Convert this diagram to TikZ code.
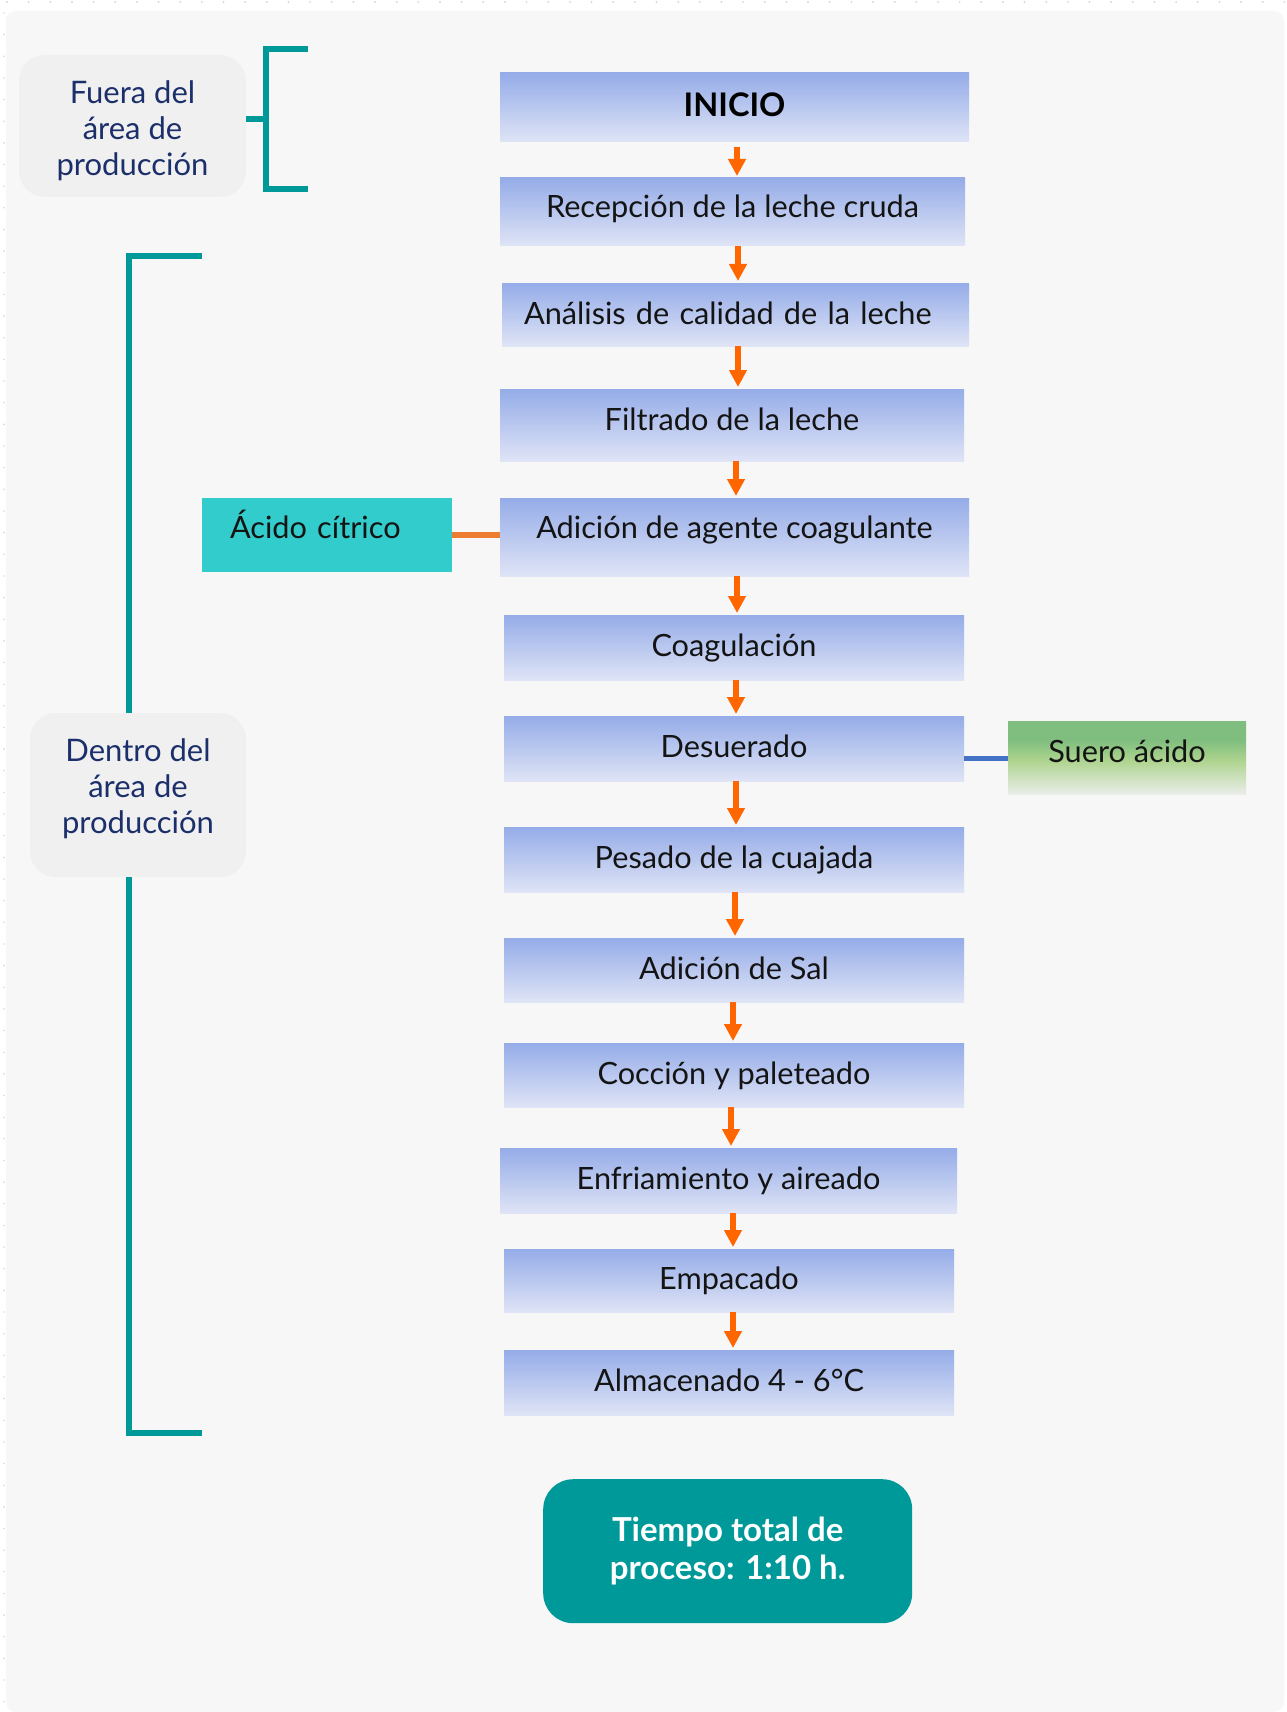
\documentclass[tikz,border=0pt]{standalone}
\usepackage{fontspec}
\setmainfont{Lato}
\usetikzlibrary{arrows.meta,calc}

% palette
\definecolor{panel}{HTML}{F7F7F7}
\definecolor{zonefill}{HTML}{F0F0F0}
\definecolor{navy}{HTML}{1B2F6A}
\definecolor{brTeal}{HTML}{009999}
\definecolor{stepTop}{HTML}{95ACE8}
\definecolor{stepBot}{HTML}{DFE4F6}
\definecolor{flowOrange}{HTML}{FF6600}
\definecolor{acidFill}{HTML}{33CCCC}
\definecolor{acidLine}{HTML}{ED7D31}
\definecolor{wheyLine}{HTML}{4472C4}
\definecolor{sueroTop}{HTML}{7FBE7E}
\definecolor{sueroMid}{HTML}{AED48F}
\definecolor{sueroBot}{HTML}{EAEDE8}
\definecolor{ink}{HTML}{141414}
\definecolor{dotc}{HTML}{D3DAEE}

% green fade for the whey box (25bp = bottom edge, 75bp = top edge)
\pgfdeclareverticalshading{sueroshade}{100bp}{%
  color(0bp)=(sueroBot); color(25bp)=(sueroBot); color(48bp)=(sueroMid);
  color(62bp)=(sueroTop); color(100bp)=(sueroTop)}

\newcommand\stepfont{\fontsize{30.7pt}{36pt}\selectfont}
\newcommand\zonefont{\fontsize{31pt}{36pt}\selectfont}
\newcommand\totalfont{\fontsize{33pt}{38.4pt}\selectfont\bfseries}

\tikzset{
  stepbox/.style={rectangle, anchor=north west, inner sep=0pt, outer sep=0pt,
    top color=stepTop, bottom color=stepBot, draw=none, font=\stepfont,
    text=ink, text height=22pt, text depth=4pt},
  zonebox/.style={rectangle, rounded corners=26pt, anchor=north west,
    fill=zonefill, inner sep=0pt, outer sep=0pt},
  zonetext/.style={font=\zonefont, text=navy, align=center, inner sep=0pt},
  flow/.style={draw=flowOrange, line width=6pt,
    -{Triangle[width=17pt,length=17pt]}, shorten >=2pt},
  bracket/.style={draw=brTeal, line width=6pt, line join=miter, line cap=butt},
}

\begin{document}
\begin{tikzpicture}[x=1pt, y=-1pt]
\useasboundingbox (0,0) rectangle (1286,1712);

% canvas, dotted grid edge and panel
\fill[white] (0,0) rectangle (1286,1712);
\foreach \i in {0,...,59} \fill[dotc] (7+21.65*\i,2) circle (1.1pt);
\foreach \i in {0,...,78} \fill[dotc] (4,13+21.65*\i) circle (0.9pt);
\fill[panel, rounded corners=10pt] (6,1712) -- (6,11) -- (1284,11) -- (1284,1712) -- cycle;

% zone labels
\node[zonebox, minimum width=227pt, minimum height=142pt] (fuera) at (19,55) {};
\node[zonetext] (fueratext) at ([yshift=-4.5pt]fuera.center) {Fuera del\\área de\\producción};
\node[zonebox, minimum width=216pt, minimum height=164pt] (dentro) at (30,713) {};
\node[zonetext] (dentrotext) at ([yshift=6pt]dentro.center) {Dentro del\\área de\\producción};

% process steps
\node[stepbox, minimum width=469pt, minimum height=69pt, text depth=5pt,
  font=\fontsize{32.5pt}{36pt}\selectfont\bfseries, text=black, text height=23pt] (inicio) at (500,73) {INICIO};
\node[stepbox, minimum width=465pt, minimum height=68pt, text depth=10pt] (recep) at (500,178)
  {Recepción de la leche cruda};
\node[stepbox, minimum width=467pt, minimum height=63pt, text depth=3pt,
  text width=423pt, align=left] (anal) at (502,283)
  {Análisis de calidad de la leche};
\node[stepbox, minimum width=464pt, minimum height=72pt, text depth=12pt] (filt) at (500,389)
  {Filtrado de la leche};
\node[stepbox, minimum width=469pt, minimum height=78pt, text depth=20pt] (adic) at (500,498)
  {Adición de agente coagulante};
\node[stepbox, minimum width=460pt, minimum height=65pt] (coag) at (504,615) {Coagulación};
\node[stepbox, minimum width=460pt, minimum height=65pt] (desu) at (504,716) {Desuerado};
\node[stepbox, minimum width=460pt, minimum height=65pt] (pesa) at (504,827) {Pesado de la cuajada};
\node[stepbox, minimum width=460pt, minimum height=64pt] (sal) at (504,938) {Adición de Sal};
\node[stepbox, minimum width=460pt, minimum height=64pt] (cocc) at (504,1043) {Cocción y paleteado};
\node[stepbox, minimum width=457pt, minimum height=65pt] (enfr) at (500,1148) {Enfriamiento y aireado};
\node[stepbox, minimum width=450pt, minimum height=63pt] (empa) at (504,1249) {Empacado};
\node[stepbox, minimum width=450pt, minimum height=65pt] (alma) at (504,1350) {Almacenado 4 - 6°C};

% inputs and outputs
\node[rectangle, anchor=north west, fill=acidFill, inner sep=0pt, outer sep=0pt,
  minimum width=250pt, minimum height=74pt, text width=194pt, align=left,
  font=\stepfont, text=ink, text height=22pt, text depth=16pt] (acido) at (202,498)
  {Ácido cítrico};
\node[rectangle, anchor=north west, shading=sueroshade, inner sep=0pt, outer sep=0pt,
  minimum width=238pt, minimum height=73pt, font=\stepfont, text=ink,
  text height=22pt, text depth=13pt] (suero) at (1008,721) {Suero ácido};

% total time
\node[rectangle, rounded corners=30pt, anchor=north west, fill=brTeal,
  inner sep=0pt, minimum width=369pt, minimum height=144pt, align=center,
  font=\totalfont, text=white] (total) at (543,1479)
  {Tiempo total de\\proceso: 1:10 h.};

% flow arrows
\foreach \a/\b/\x in {recep/anal/738, anal/filt/738, filt/adic/736, adic/coag/737,
    coag/desu/736, desu/pesa/736, pesa/sal/735, sal/cocc/733, cocc/enfr/731,
    enfr/empa/733, empa/alma/733} {
  \coordinate (ax) at (\x,0);
  \draw[flow] (\a.south -| ax) -- (\b.north -| ax);
}
\coordinate (ax) at (737,0);
\draw[flow, shorten <=5pt] (inicio.south -| ax) -- (recep.north -| ax);

% side connectors
\draw[draw=acidLine, line width=5.5pt] (acido.east) -- (acido.east -| adic.west);
\coordinate (wy) at (0,758);
\draw[draw=wheyLine, line width=5pt] (desu.east |- wy) -- (suero.west |- wy);

% zone brackets
\coordinate (b1top) at (308,49.5);
\coordinate (b1bot) at (308,189.5);
\coordinate (b1mid) at (266,119.3);
\draw[bracket] (b1top) -- (266,49.5) -- (266,189.5) -- (b1bot);
\draw[bracket] (fuera.east |- b1mid) -- (b1mid);

\coordinate (b2top) at (202,256.5);
\coordinate (b2bot) at (202,1433);
\coordinate (b2x) at (129,0);
\draw[bracket] (b2top) -- (b2top -| b2x) -- (dentro.north -| b2x);
\draw[bracket] (dentro.south -| b2x) -- (b2bot -| b2x) -- (b2bot);
\end{tikzpicture}
\end{document}
